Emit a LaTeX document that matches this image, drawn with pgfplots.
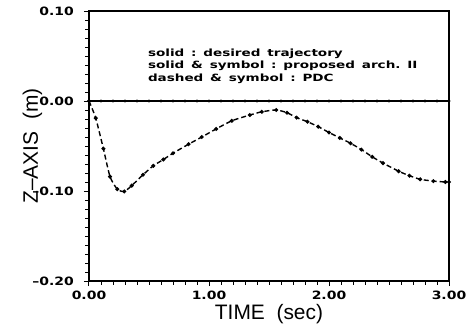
\documentclass[border=0pt]{standalone}
\usepackage{fontspec}
\usepackage{graphicx}
\setmainfont{DejaVu Sans}
\newfontfamily\labfont{Liberation Sans}
\usepackage{pgfplots}
\pgfplotsset{compat=1.18}
\newcommand\gap{\hspace{5bp}}
\newcommand\tl[1]{\scalebox{1.22}[1]{\bfseries\fontsize{11.5}{11.5}\selectfont #1}}
\begin{document}
\begin{tikzpicture}[x=1bp,y=1bp]
\useasboundingbox (-89,-49) rectangle (379,281);
\begin{axis}[
  at={(0,0)}, anchor=south west,
  scale only axis, width=360bp, height=270bp,
  xmin=0, xmax=3, ymin=-0.2, ymax=0.1,
  xtick={0,1,2,3}, ytick={-0.2,-0.1,0,0.1},
  xticklabels={\tl{0.00},\tl{1.00},\tl{2.00},\tl{3.00}},
  yticklabels={\tl{–0.20},\tl{–0.10},\tl{0.00},\tl{0.10}},
  minor x tick num=9, minor y tick num=9,
  xtick pos=left, ytick pos=left,
  tick align=outside,
  major tick length=5bp, minor tick length=3.5bp,
  axis line style={line width=1.6bp},
  every tick/.style={line width=1bp, black},
  xticklabel style={inner sep=0pt, anchor=north, yshift=-5bp},
  yticklabel style={inner sep=0pt, anchor=east, xshift=-10bp},
  xlabel={TIME\ \ (sec)},
  ylabel={Z–AXIS\ \ (m)},
  xlabel style={font=\labfont\fontsize{21}{21}\selectfont, at={(axis description cs:0.5,-0.1444)}, anchor=base, inner sep=0pt},
  ylabel style={font=\labfont\fontsize{21}{21}\selectfont, at={(axis description cs:-0.1417,0.5)}, anchor=base, inner sep=0pt},
  clip=false,
]
% desired trajectory (solid)
\addplot[black, line width=1.6bp] coordinates {(0,0) (3,0)};
% proposed arch. II (solid & symbol)
\addplot[black, line width=1.2bp, mark=*, mark size=0.8bp, mark options={solid}] coordinates {
(0,0) (0.1,0) (0.2,0) (0.3,0) (0.4,0) (0.5,0) (0.6,0) (0.7,0) (0.8,0) (0.9,0)
(1.0,0) (1.1,0) (1.2,0) (1.3,0) (1.4,0) (1.5,0) (1.6,0) (1.7,0) (1.8,0) (1.9,0)
(2.0,0) (2.1,0) (2.2,0) (2.3,0) (2.4,0) (2.5,0) (2.6,0) (2.7,0) (2.8,0) (2.9,0) (3.0,0)};
% PDC (dashed & symbol)
\addplot[black, line width=1.4bp, dash pattern=on 5bp off 3bp, smooth, tension=0.4, mark=*, mark size=1.2bp, mark options={solid}] coordinates {
(0,0) (0.056,-0.019) (0.12,-0.053) (0.175,-0.084) (0.236,-0.098) (0.294,-0.1005)
(0.356,-0.094) (0.45,-0.082) (0.536,-0.072) (0.62,-0.065) (0.70,-0.058) (0.83,-0.048)
(0.94,-0.040) (1.06,-0.031) (1.19,-0.022) (1.34,-0.0156) (1.44,-0.012) (1.56,-0.010)
(1.65,-0.013) (1.73,-0.0185) (1.82,-0.023) (1.91,-0.0285) (2.0,-0.035) (2.09,-0.041)
(2.18,-0.047) (2.27,-0.054) (2.36,-0.062) (2.45,-0.069) (2.58,-0.078) (2.67,-0.083)
(2.76,-0.087) (2.87,-0.089) (2.97,-0.090) (3.0,-0.090)};
\node[anchor=base west, inner sep=0pt, font=\bfseries\fontsize{10}{13}\selectfont]
  at (axis cs:0.49,0.050) {\scalebox{1.36}[1]{\begin{tabular}[t]{@{}l@{}}solid\gap:\gap desired\gap trajectory\\
  solid\gap\&\gap symbol\gap:\gap proposed\gap arch.\gap II\\
  dashed\gap\&\gap symbol\gap:\gap PDC\end{tabular}}};
\end{axis}
\end{tikzpicture}
\end{document}
